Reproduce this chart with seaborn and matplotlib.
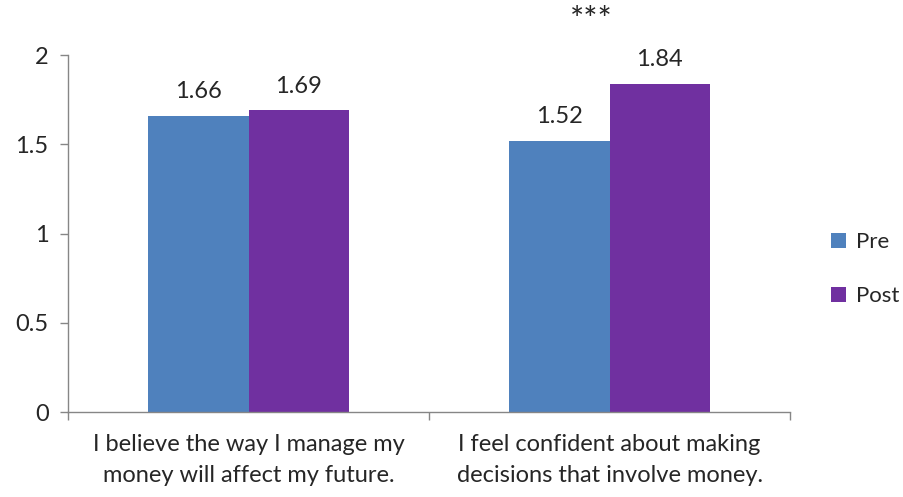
import matplotlib
matplotlib.use("Agg")
import matplotlib.pyplot as plt
import seaborn as sns
import pandas as pd

categories = ["I believe the way I manage my\nmoney will affect my future.",
              "I feel confident about making\ndecisions that involve money."]
pre_values = [1.66, 1.52]
post_values = [1.69, 1.84]
series = ["Pre", "Post"]
colors = ["#4F81BD", "#7030A0"]
y_ticks = [0, 0.5, 1, 1.5, 2]
y_tick_labels = ["0", "0.5", "1", "1.5", "2"]

df = pd.DataFrame({
    "category": categories * 2,
    "value": pre_values + post_values,
    "series": [series[0]] * 2 + [series[1]] * 2,
})

sns.set_theme(style="white")
plt.rcParams["font.family"] = ["Lato", "DejaVu Sans"]
FS = 17

fig = plt.figure(figsize=(9.04, 4.97), dpi=100)
ax = fig.add_axes([0.0752, 0.171, 0.7988, 0.718])

sns.barplot(data=df, x="category", y="value", hue="series",
            palette=colors, width=0.555, ax=ax, saturation=1,
            edgecolor="none", linewidth=0)

for container in ax.containers:
    ax.bar_label(container, fmt="%.2f", padding=10, fontsize=FS)

ax.set_xlim(-0.5, 1.5)
ax.set_ylim(0, 2)
ax.set_yticks(y_ticks)
ax.set_yticklabels(y_tick_labels, fontsize=FS)
ax.set_xticks([0, 1])
ax.set_xticklabels(categories, fontsize=FS, linespacing=1.55)
ax.tick_params(axis="x", length=0, pad=16)
ax.set_xticks([-0.5, 0.5, 1.5], minor=True)
ax.tick_params(axis="x", which="minor", length=6, color="#868686",
               width=1, direction="out", bottom=True)
ax.tick_params(axis="y", length=6, color="#868686", width=1,
               direction="out", left=True, pad=8)
ax.set_xlabel("")
ax.set_ylabel("")

for side in ["top", "right"]:
    ax.spines[side].set_visible(False)
for side in ["left", "bottom"]:
    ax.spines[side].set_color("#868686")
    ax.spines[side].set_linewidth(1)

ax.annotate("***", xy=(0.95, 2.19), ha="center", va="center",
            fontsize=24, annotation_clip=False)

leg = ax.legend(loc="center left", bbox_to_anchor=(1.045, 0.40),
                frameon=False, fontsize=16, handlelength=0.65,
                handleheight=0.65, labelspacing=1.55, handletextpad=0.45,
                borderaxespad=0.0)

fig.savefig("out.png", dpi=100)
